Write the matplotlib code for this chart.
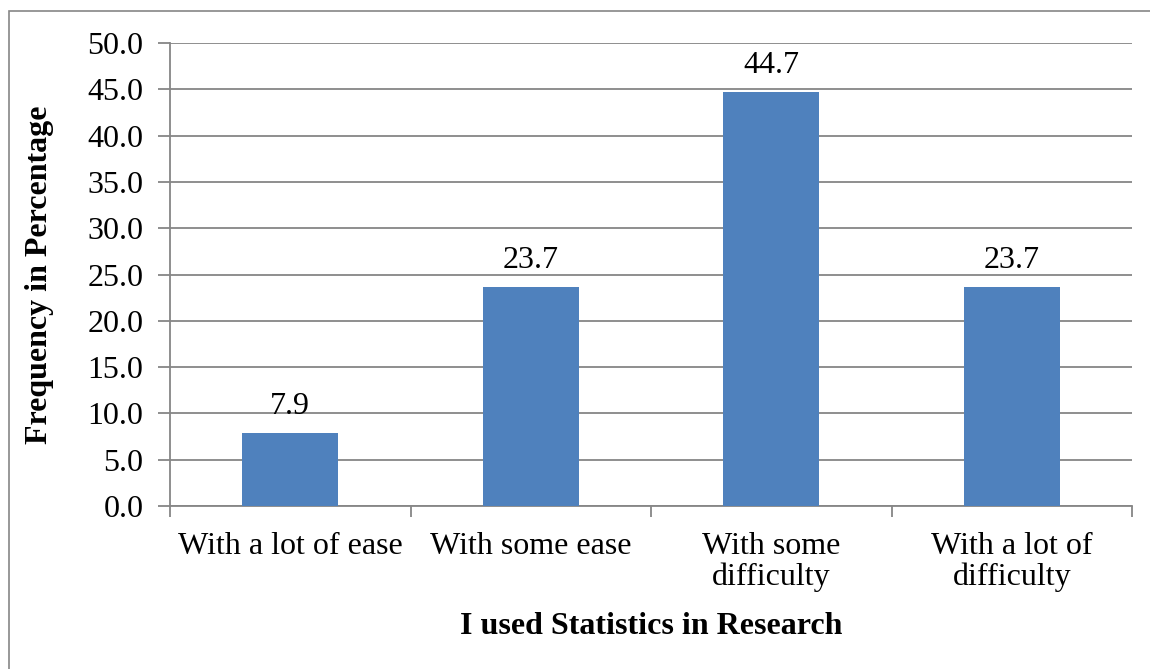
import matplotlib
matplotlib.use("Agg")
import matplotlib.pyplot as plt
from matplotlib.patches import Rectangle

categories = ["With a lot of ease", "With some ease", "With some\ndifficulty", "With a lot of\ndifficulty"]
values = [7.9, 23.7, 44.7, 23.7]
yticks = [0, 5, 10, 15, 20, 25, 30, 35, 40, 45, 50]

plt.rcParams["font.family"] = ["Liberation Serif", "DejaVu Serif"]

W, H = 1150, 669
fig = plt.figure(figsize=(W / 100, H / 100), dpi=100)
fig.patch.set_facecolor("white")

# outer chart border (left and top edges visible)
fig.add_artist(Rectangle((9 / W, -0.1), 1.2, (H - 11) / H + 0.1, transform=fig.transFigure,
                         fill=False, edgecolor="#868686", linewidth=1.2))

left, right, top, bottom = 170, 1132, 43, 506
ax = fig.add_axes([left / W, 1 - bottom / H, (right - left) / W, (bottom - top) / H])

fs = 23
grid_color = "#868686"
x = list(range(len(categories)))
ax.bar(x, values, width=0.4, color="#4F81BD", zorder=3)
for xi, v in zip(x, values):
    ax.annotate(f"{v:.1f}", (xi, v), xytext=(0, 13.5), textcoords="offset points",
                ha="center", va="baseline", fontsize=fs, color="black")

ax.set_xlim(-0.5, len(categories) - 0.5)
ax.set_ylim(0, 50)
ax.set_yticks(yticks)
ax.set_yticklabels([f"{t:.1f}" for t in yticks], fontsize=fs)
ax.yaxis.grid(True, color=grid_color, linewidth=1.3, zorder=0)
ax.set_axisbelow(True)

ax.set_xticks([i - 0.5 for i in range(len(categories) + 1)], minor=False)
ax.set_xticklabels([])
ax.set_xticks(x, minor=True)
ax.set_xticklabels(categories, minor=True, fontsize=fs, linespacing=1.07)
ax.tick_params(axis="x", which="major", length=8, width=1.3, color=grid_color, direction="out")
ax.tick_params(axis="x", which="minor", length=0, pad=19)
ax.tick_params(axis="y", length=9, width=1.3, color=grid_color, direction="out", pad=10)

for side in ["top", "right"]:
    ax.spines[side].set_visible(False)
for side in ["left", "bottom"]:
    ax.spines[side].set_color(grid_color)
    ax.spines[side].set_linewidth(1.3)

fig.text(40 / W, 1 - 275 / H, "Frequency in Percentage", rotation=90, ha="center", va="center",
         fontsize=fs, fontweight="bold")
fig.text((left + right) / 2 / W, 1 - 626 / H, "I used Statistics in Research", ha="center",
         va="center", fontsize=fs, fontweight="bold")

fig.savefig("out.png", dpi=100)
